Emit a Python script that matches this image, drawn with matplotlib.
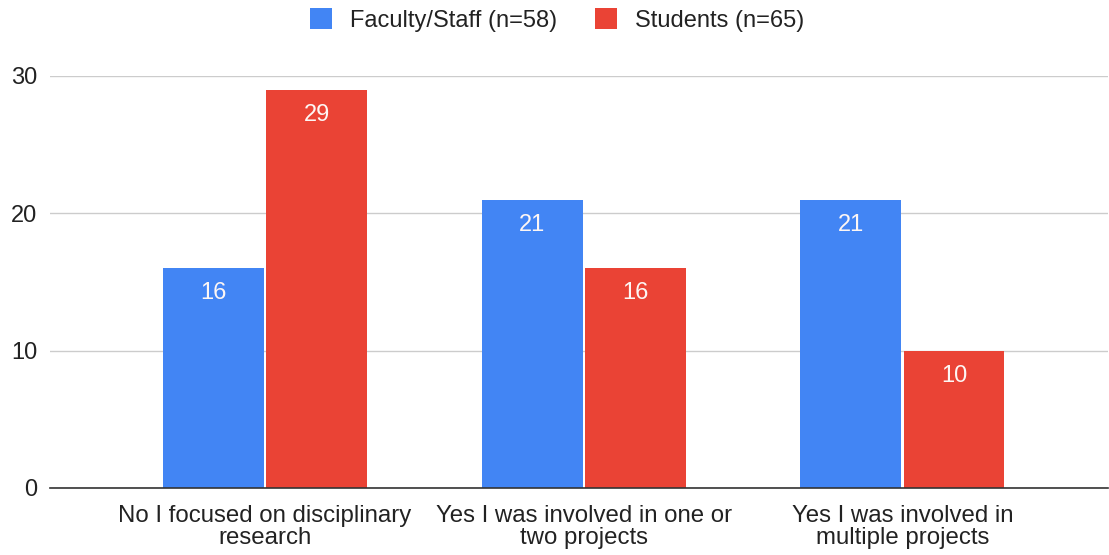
import numpy as np
import matplotlib.pyplot as plt
from matplotlib.patches import Patch

plt.rcParams['font.family'] = ['Liberation Sans', 'DejaVu Sans']

categories = ["No I focused on disciplinary\nresearch",
              "Yes I was involved in one or\ntwo projects",
              "Yes I was involved in\nmultiple projects"]
faculty = [16, 21, 21]
students = [29, 16, 10]
series_names = ["Faculty/Staff (n=58)", "Students (n=65)"]

blue = '#4285F4'
red = '#EA4335'

fig = plt.figure(figsize=(11.09, 5.55), dpi=100)
ax = fig.add_axes([50 / 1109, 1 - 488 / 555, 1058 / 1109, 412 / 555])

x = np.arange(len(categories))
w = 0.316
gap = 0.004
b1 = ax.bar(x - w / 2 - gap, faculty, w, color=blue, zorder=3)
b2 = ax.bar(x + w / 2 + gap, students, w, color=red, zorder=3)

# value labels inside the top of each bar
for bars in (b1, b2):
    for rect in bars:
        h = rect.get_height()
        ax.annotate(f"{h:g}", (rect.get_x() + rect.get_width() / 2, h),
                    xytext=(0, -25), textcoords='offset pixels',
                    ha='center', va='center', color='#fdf6f4', fontsize=17, zorder=4)

ax.set_xlim(-0.675, 2.645)
ax.set_ylim(0, 30)
ax.set_yticks([0, 10, 20, 30])
ax.set_xticks(x)
ax.set_xticklabels(categories, fontsize=17.3, color='#222222', linespacing=1.0)
ax.tick_params(axis='y', labelsize=17, length=0, pad=9)
ax.tick_params(axis='x', length=0, pad=12)
for lbl in ax.get_yticklabels():
    lbl.set_color('#222222')

ax.grid(axis='y', color='#cccccc', linewidth=1, zorder=0)
for s in ['top', 'right', 'left']:
    ax.spines[s].set_visible(False)
ax.spines['bottom'].set_color('#333333')
ax.spines['bottom'].set_linewidth(1.2)
ax.spines['bottom'].set_zorder(5)

handles = [Patch(facecolor=blue), Patch(facecolor=red)]
fig.legend(handles, series_names, loc='center', bbox_to_anchor=(557 / 1109, 1 - 20 / 555),
           ncol=2, frameon=False, fontsize=17, handlelength=0.95, handleheight=0.95,
           handletextpad=0.75, columnspacing=1.6, labelcolor='#222222',
           borderpad=0, borderaxespad=0)

fig.savefig('out.png', dpi=100)
